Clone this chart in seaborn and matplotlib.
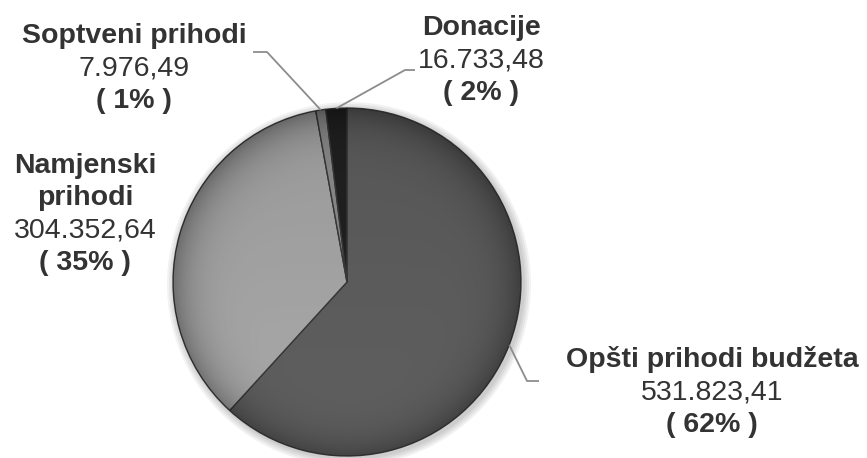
import numpy as np
import matplotlib
matplotlib.use("Agg")
import matplotlib.pyplot as plt
import seaborn as sns

# ---- data ----
categories = ["Opšti prihodi budžeta", "Namjenski prihodi", "Soptveni prihodi", "Donacije"]
values = [531823.41, 304352.64, 7976.49, 16733.48]
value_labels = ["531.823,41", "304.352,64", "7.976,49", "16.733,48"]
percent_labels = ["( 62% )", "( 35% )", "( 1% )", "( 2% )"]
title_lines = [["Opšti prihodi budžeta"], ["Namjenski", "prihodi"], ["Soptveni prihodi"], ["Donacije"]]

# ---- style ----
colors = ["#606060", "#aaaaaa", "#909090", "#222222"]
text_color = "#333333"

sns.set_theme(style="white")
plt.rcParams['font.family'] = ['Liberation Sans', 'DejaVu Sans']

W, H = 867, 458
fig = plt.figure(figsize=(W / 100, H / 100), dpi=100)
ax = fig.add_axes([0, 0, 1, 1])

cx, cy, R = 347, H - 282, 174

# soft shadow
for i, a in enumerate([0.05, 0.05, 0.05, 0.05]):
    ax.add_patch(plt.Circle((cx + 2, cy - 2), R + 2 + 2 * i, color="black", alpha=a, lw=0, zorder=0))

wedges, _ = ax.pie(values, colors=colors, startangle=90, counterclock=False,
                   center=(cx, cy), radius=R,
                   wedgeprops=dict(edgecolor="#3a3a3a", linewidth=1.0))

# bevel / shading overlay (darker toward rim and bottom)
n = 400
gx, gy = np.meshgrid(np.linspace(-1, 1, n), np.linspace(-1, 1, n))
rr = np.sqrt(gx ** 2 + gy ** 2)
alpha = np.clip(0.30 * rr ** 8 + 0.10 * (1 - (gy + 1) / 2), 0, 1)
rgba = np.zeros((n, n, 4))
rgba[..., 3] = alpha
img = ax.imshow(rgba, extent=(cx - R, cx + R, cy - R, cy + R), origin="upper",
                zorder=3, interpolation="bilinear")
clip = plt.Circle((cx, cy), R, transform=ax.transData)
img.set_clip_path(clip)

ax.set_xlim(0, W)
ax.set_ylim(0, H)
ax.set_aspect('equal')
ax.axis('off')

# label layout (pixel coordinates: center x, baseline of first line, step)
label_x = [712, 85, 134, 481]
label_y0 = [367, 173, 43, 35]
step = 32.3
fs = 20.5

for i in range(len(categories)):
    lines = [(t, "bold") for t in title_lines[i]] + [(value_labels[i], "normal"), (percent_labels[i], "bold")]
    for j, (t, w) in enumerate(lines):
        ax.text(label_x[i], H - (label_y0[i] + j * step), t, ha="center", va="baseline",
                fontsize=fs, fontweight=w, color=text_color)

# leader lines: from wedge edge (mid angle) to elbow to end near label
elbows = {0: (527, 381, 539, 381), 2: (267, 52, 253, 52), 3: (405, 70, 415, 70)}
for i, (ex, ey, tx, ty) in elbows.items():
    w = wedges[i]
    mid = np.deg2rad((w.theta1 + w.theta2) / 2)
    sx, sy = cx + R * np.cos(mid), cy + R * np.sin(mid)
    ax.plot([sx, ex, tx], [sy, H - ey, H - ty], color="#8c8c8c", lw=1.3, zorder=5, solid_capstyle="butt")

fig.savefig("out.png", dpi=100)
